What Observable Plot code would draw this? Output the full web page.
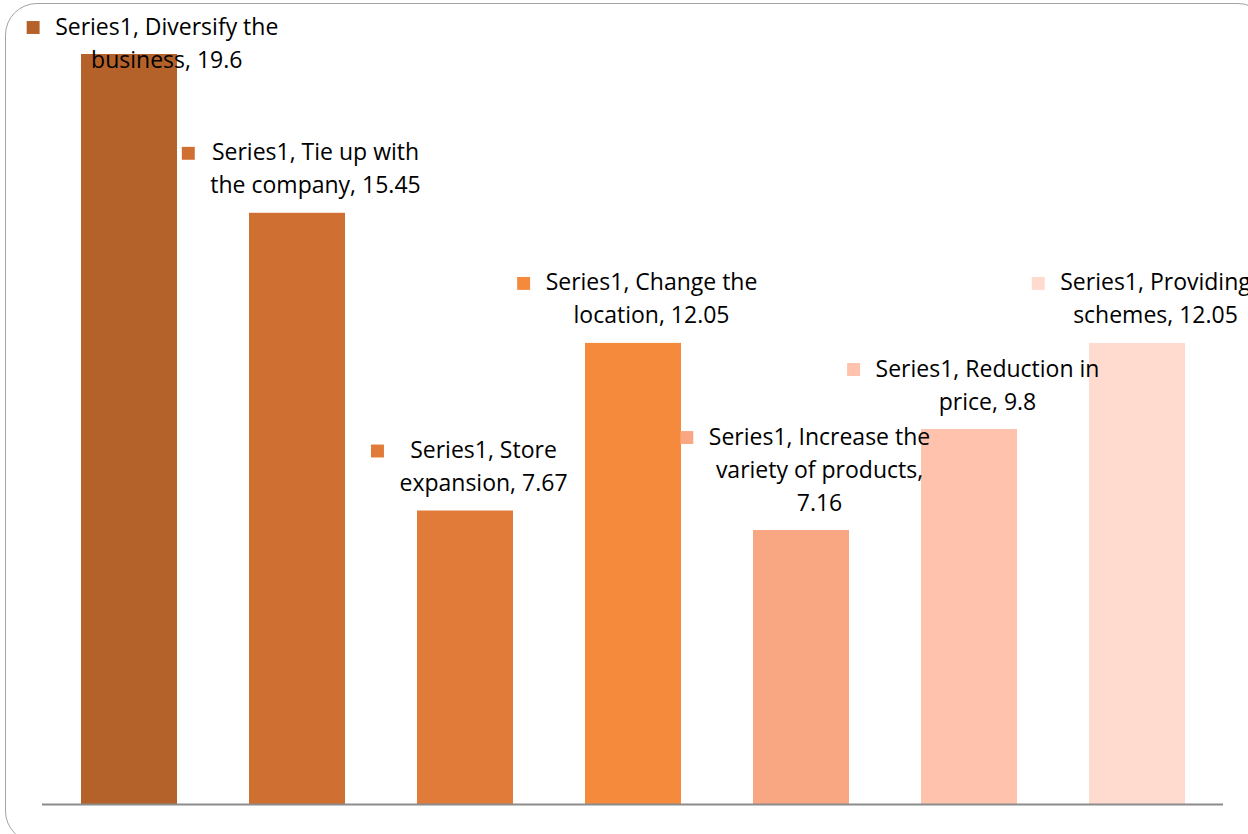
<!DOCTYPE html>
<html><head><meta charset="utf-8">
<script src="https://cdn.jsdelivr.net/npm/d3@7"></script>
<script src="https://cdn.jsdelivr.net/npm/@observablehq/plot@0.6"></script>
<style>
html,body{margin:0;padding:0;background:#fff;overflow:hidden}
#wrap{position:relative;width:1248px;height:834px;overflow:hidden;background:#fff}
#frame{position:absolute;left:5px;top:3px;width:1265px;height:840px;border:1.5px solid #a3a3a3;border-radius:32px;box-sizing:border-box}
#chart{position:absolute;left:0;top:0}
</style></head><body><div id="wrap"><div id="frame"></div><div id="chart"></div></div>
<script>
const categories = ["Diversify the business", "Tie up with the company", "Store expansion", "Change the location", "Increase the variety of products", "Reduction in price", "Providing schemes"];
const values = [19.6, 15.45, 7.67, 12.05, 7.16, 9.8, 12.05];
const seriesName = "Series1";
const labelLines = [
  ["Series1, Diversify the", "business, 19.6"],
  ["Series1, Tie up with", "the company, 15.45"],
  ["Series1, Store", "expansion, 7.67"],
  ["Series1, Change the", "location, 12.05"],
  ["Series1, Increase the", "variety of products,", "7.16"],
  ["Series1, Reduction in", "price, 9.8"],
  ["Series1, Providing", "schemes, 12.05"]
];
const colors = ["#B4622A", "#CF6F31", "#E07B39", "#F5893C", "#F9A682", "#FFC2AD", "#FFDBCF"];

const W = 1248, H = 834, mL = 42, mR = 25, mT = 54, mB = 30;
const fs = 23, LH = 33, FONT = "'Open Sans', sans-serif";
const xOpts = {domain: categories, paddingInner: 0.43, paddingOuter: 0.215};
const data = categories.map((c, i) => ({c, v: values[i], color: colors[i], lines: labelLines[i]}));
const yScale = Plot.scale({y: {domain: [0, d3.max(values)], range: [H - mB, mT]}});
const xScale = Plot.scale({x: {type: "band", ...xOpts, range: [mL, W - mR]}});
const ctx = document.createElement("canvas").getContext("2d");
ctx.font = `${fs}px 'Open Sans'`;

const marks = [
  Plot.barY(data, {x: "c", y: "v", fill: "color"}),
  Plot.ruleY([0], {stroke: "#8c8c8c", strokeWidth: 2})
];
data.forEach(d => {
  const n = d.lines.length;
  const lastCenter = yScale.apply(d.v) - 27;
  const firstCenter = lastCenter - (n - 1) * LH;
  const shift = Math.max(0, 27 - firstCenter);
  const w = Math.max(...d.lines.map(s => ctx.measureText(s).width));
  const cx = xScale.apply(d.c) + xScale.bandwidth / 2;
  const keyDx = 18 - w / 2 - 22;
  const hshift = Math.max(0, 30 - (cx + keyDx));
  marks.push(Plot.text([d], {x: "c", y: "v", text: e => e.lines.join("\n"), lineAnchor: "bottom",
    lineHeight: LH / fs, dx: 18 + hshift, dy: -20 + shift, fontSize: fs, fill: "#000", fontFamily: FONT}));
  marks.push(Plot.dot([d], {x: "c", y: "v", symbol: "square", r: 7.3, fill: "color", stroke: null,
    dx: keyDx + hshift, dy: -27 - (n - 1) * LH + shift}));
});

const chart = Plot.plot({
  width: W, height: H,
  marginLeft: mL, marginRight: mR, marginTop: mT, marginBottom: mB,
  style: {background: "transparent", fontFamily: FONT},
  x: {...xOpts, axis: null},
  y: {domain: [0, d3.max(values)], axis: null},
  color: {type: "identity"},
  marks
});
document.getElementById("chart").appendChild(chart);
</script>
</body></html>
